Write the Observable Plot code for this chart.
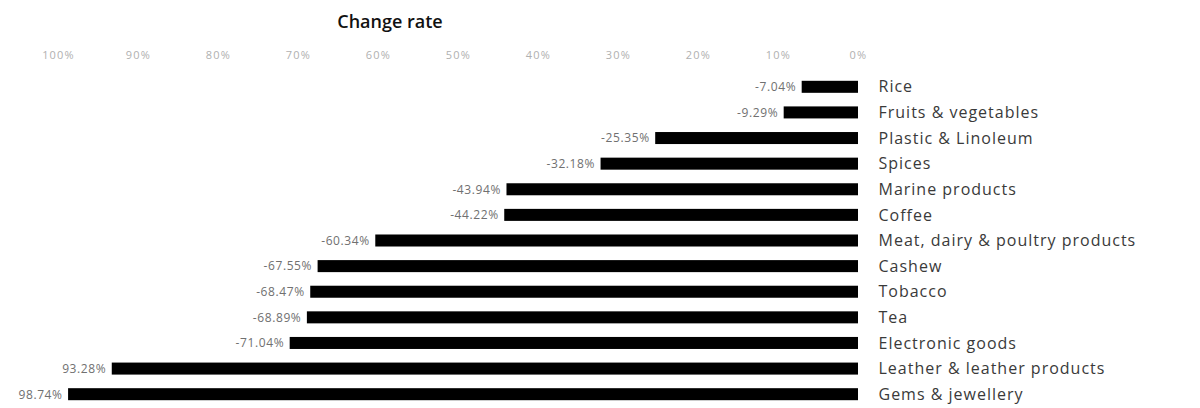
<!DOCTYPE html>
<html>
<head>
<meta charset="utf-8">
<script src="https://cdn.jsdelivr.net/npm/d3@7"></script>
<script src="https://cdn.jsdelivr.net/npm/@observablehq/plot@0.6"></script>
<style>
  html, body { margin: 0; padding: 0; background: #fff; }
  #wrap { position: relative; width: 1200px; height: 408px; overflow: hidden; font-family: "Open Sans", "Noto Sans", sans-serif; }
  #title { position: absolute; left: 290px; top: 8px; width: 200px; text-align: center; font-size: 18px; font-weight: 600; color: #111; height: 26px; line-height: 26px; }
  #chart { position: absolute; left: 0; top: 38px; }
  .cat text { letter-spacing: 1px; }
  .val text { letter-spacing: 0.6px; }
  .tick text { letter-spacing: 1.2px; }
</style>
</head>
<body>
<div id="wrap">
  <div id="title">Change rate</div>
  <div id="chart"></div>
</div>
<script>
const categories = ["Rice", "Fruits & vegetables", "Plastic & Linoleum", "Spices", "Marine products", "Coffee", "Meat, dairy & poultry products", "Cashew", "Tobacco", "Tea", "Electronic goods", "Leather & leather products", "Gems & jewellery"];
const values = [-7.04, -9.29, -25.35, -32.18, -43.94, -44.22, -60.34, -67.55, -68.47, -68.89, -71.04, -93.28, -98.74];
const valueLabels = ["-7.04%", "-9.29%", "-25.35%", "-32.18%", "-43.94%", "-44.22%", "-60.34%", "-67.55%", "-68.47%", "-68.89%", "-71.04%", "93.28%", "98.74%"];
const tickValues = [-100, -90, -80, -70, -60, -50, -40, -30, -20, -10, 0];
const tickLabels = ["100%", "90%", "80%", "70%", "60%", "50%", "40%", "30%", "20%", "10%", "0%"];

const data = categories.map((c, i) => ({category: c, value: values[i], label: valueLabels[i]}));

const chart = Plot.plot({
  width: 1200,
  height: 370,
  marginLeft: 58,
  marginRight: 342,
  marginTop: 36,
  marginBottom: 1,
  style: {fontFamily: "'Open Sans', 'Noto Sans', sans-serif", background: "#fff"},
  x: {domain: [-100, 0], axis: null},
  y: {domain: categories, padding: 0, round: false, axis: null},
  marks: [
    Plot.axisX({
      anchor: "top",
      ticks: tickValues,
      tickFormat: (d) => tickLabels[tickValues.indexOf(d)],
      tickSize: 0,
      tickPadding: 16,
      fontSize: 11,
      fill: "#b0b0b0",
      label: null,
      className: "tick"
    }),
    Plot.barX(data, {x1: 0, x2: "value", y: "category", fill: "#000", insetTop: 6.8, insetBottom: 6.8}),
    Plot.text(data, {x: "value", y: "category", text: "label", textAnchor: "end", dx: -6, fontSize: 12, fill: "#707070", className: "val"}),
    Plot.text(data, {x: 0, y: "category", text: "category", textAnchor: "start", dx: 20, fontSize: 16, fill: "#3a3a3a", className: "cat"})
  ]
});
document.getElementById("chart").appendChild(chart);
</script>
</body>
</html>
